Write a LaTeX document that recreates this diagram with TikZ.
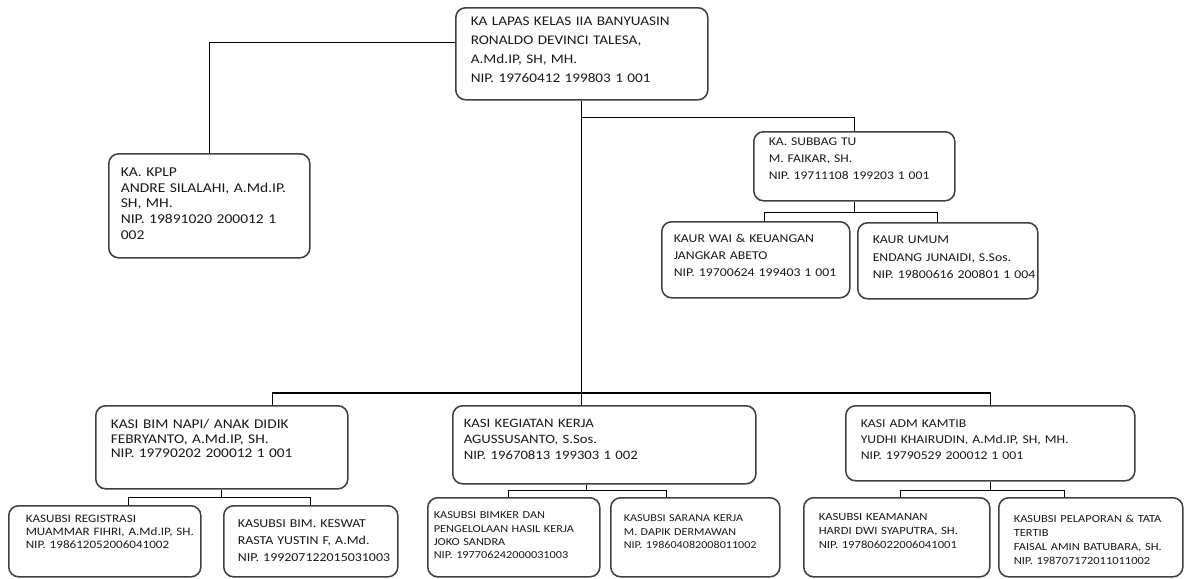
\documentclass[tikz,border=0pt]{standalone}
\usepackage{fontspec}
\setmainfont{Carlito}[FakeStretch=1.15]
\usetikzlibrary{positioning}
\newcommand{\setsz}[2]{\fontsize{#1}{#2}\selectfont}

\begin{document}
\begin{tikzpicture}[
	x=0.025cm, y=-0.025cm,
	every node/.style = {align=left, text=black!90},
	Box/.style = {draw=black!75, line width=1.1pt, rounded corners=7pt,
		anchor=north west, inner sep=0pt, execute at begin node={\leftskip=#1}},
	Line/.style = {line width=0.8pt},
	ys/.style = {yshift=#1},
	xs/.style = {xshift=#1}
]
\useasboundingbox (0,0) rectangle (1186,579);
\node[Box=0.375cm, text width=6.3cm, text height=0.45cm, text depth=1.85cm,
	font=\setsz{9.4}{13.5}] (kalapas) at (455,7)
	{KA LAPAS KELAS IIA BANYUASIN\\RONALDO DEVINCI TALESA,\\A.Md.IP, SH, MH.\\NIP. 19760412 199803 1 001};
\node[Box=0.3cm, text width=5.025cm, text height=0.575cm, text depth=2.025cm,
	font=\setsz{9.6}{11.1}] (kplp) at (108,153)
	{KA. KPLP\\ANDRE SILALAHI, A.Md.IP.\\SH, MH.\\NIP. 19891020 200012 1\\002};
\node[Box=0.375cm, text width=5.025cm, text height=0.35cm, text depth=1.375cm,
	font=\setsz{8.4}{11.9}] (subbag) at (753,131)
	{KA. SUBBAG TU\\M. FAIKAR, SH.\\NIP. 19711108 199203 1 001};
\node[Box=0.3cm, text width=4.7cm, text height=0.525cm, text depth=1.375cm,
	font=\setsz{8.5}{12.1}] (kaurwai) at (661,221)
	{KAUR WAI \& KEUANGAN\\JANGKAR ABETO\\NIP. 19700624 199403 1 001};
\node[Box=0.375cm, text width=4.5cm, text height=0.525cm, text depth=1.375cm,
	font=\setsz{8.5}{12.4}] (kaurumum) at (857,222)
	{KAUR UMUM\\ENDANG JUNAIDI, S.Sos.\\NIP. 19800616 200801 1 004};
\node[Box=0.375cm, text width=6.3cm, text height=0.575cm, text depth=1.5cm,
	font=\setsz{9.5}{10.3}] (bim) at (95,405)
	{KASI BIM NAPI/ ANAK DIDIK\\FEBRYANTO, A.Md.IP, SH.\\NIP. 19790202 200012 1 001};
\node[Box=0.275cm, text width=7.575cm, text height=0.55cm, text depth=1.4cm,
	font=\setsz{9.1}{11.4}] (kegiatan) at (452,405)
	{KASI KEGIATAN KERJA\\AGUSSUSANTO, S.Sos.\\NIP. 19670813 199303 1 002};
\node[Box=0.375cm, text width=7.225cm, text height=0.55cm, text depth=1.325cm,
	font=\setsz{8.5}{11.4}] (adm) at (845,405)
	{KASI ADM KAMTIB\\YUDHI KHAIRUDIN, A.Md.IP, SH, MH.\\NIP. 19790529 200012 1 001};
\node[Box=0.425cm, text width=4.8cm, text height=0.425cm, text depth=1.35cm,
	font=\setsz{8.1}{9.2}] (reg) at (8,505)
	{KASUBSI REGISTRASI\\MUAMMAR FIHRI, A.Md.IP, SH.\\NIP. 198612052006041002};
\node[Box=0.35cm, text width=4.35cm, text height=0.55cm, text depth=1.225cm,
	font=\setsz{8.6}{11.9}] (keswat) at (223,505)
	{KASUBSI BIM. KESWAT\\RASTA YUSTIN F, A.Md.\\NIP. 199207122015031003};
\node[Box=0.15cm, text width=4.3cm, text height=0.525cm, text depth=1.45cm,
	font=\setsz{7.6}{9.5}] (bimker) at (427,497)
	{KASUBSI BIMKER DAN\\PENGELOLAAN HASIL KERJA\\JOKO SANDRA\\NIP. 197706242000031003};
\node[Box=0.325cm, text width=4.225cm, text height=0.6cm, text depth=1.375cm,
	font=\setsz{7.5}{9.5}] (sarana) at (610,497)
	{KASUBSI SARANA KERJA\\M. DAPIK DERMAWAN\\NIP. 198604082008011002};
\node[Box=0.375cm, text width=4.65cm, text height=0.575cm, text depth=1.4cm,
	font=\setsz{7.8}{10}] (keamanan) at (803,497)
	{KASUBSI KEAMANAN\\HARDI DWI SYAPUTRA, SH.\\NIP. 197806022006041001};
\node[Box=0.375cm, text width=4.6cm, text height=0.625cm, text depth=1.35cm,
	font=\setsz{7.7}{10}] (pelaporan) at (998,497)
	{KASUBSI PELAPORAN \& TATA\\TERTIB\\FAISAL AMIN BATUBARA, SH.\\NIP. 198707172011011002};
\coordinate (bus) at (583,393);

\draw[Line] ([ys=0.275cm]kalapas.west) -| (kplp.north);
\draw[Line] ([ys=-0.425cm]kalapas.south) -| (subbag.north);
\draw[Line] (subbag.south) -- ([ys=-0.275cm]subbag.south);
\draw[Line] ([xs=0.21cm]kaurwai.north) |- ([ys=-0.275cm]subbag.south) -| ([xs=-0.26cm]kaurumum.north);
\draw[Line] (kalapas.south) -- (kalapas.south |- kegiatan.north);
\draw[Line] ([xs=1.26cm]bim.north) |- (bus) -| (adm.north);
\draw[Line] (bim.south) -- ([ys=-0.2cm]bim.south);
\draw[Line] ([xs=0.59cm]reg.north) |- ([ys=-0.2cm]bim.south) -| (keswat.north);
\draw[Line] ([xs=-0.45cm]kegiatan.south) -- ([xs=-0.45cm, ys=-0.15cm]kegiatan.south);
\draw[Line] ([xs=-0.14cm]bimker.north) |- ([xs=-0.45cm, ys=-0.15cm]kegiatan.south) -| ([xs=-0.725cm]sarana.north);
\draw[Line] (adm.south) -- ([ys=-0.225cm]adm.south);
\draw[Line] ([xs=0.09cm]keamanan.north) |- ([ys=-0.225cm]adm.south) -| ([xs=-0.66cm]pelaporan.north);
\end{tikzpicture}
\end{document}
